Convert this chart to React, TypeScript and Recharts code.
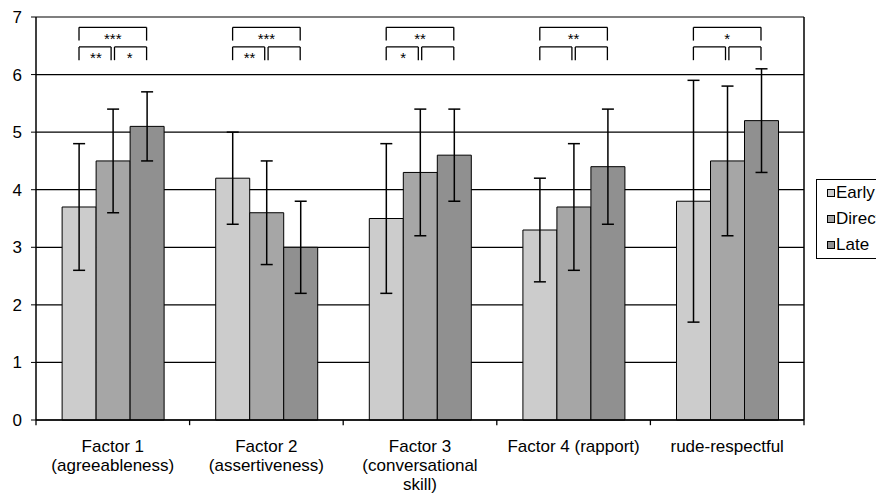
import React from 'react'
import {
  BarChart,
  Bar,
  XAxis,
  YAxis,
  CartesianGrid,
  ErrorBar,
  ReferenceLine,
  ReferenceDot,
  Legend,
} from 'recharts'

const categories = [
  'Factor 1\n(agreeableness)',
  'Factor 2\n(assertiveness)',
  'Factor 3\n(conversational\nskill)',
  'Factor 4 (rapport)',
  'rude-respectful',
]
const early = [3.7, 4.2, 3.5, 3.3, 3.8]
const earlyErr = [1.1, 0.8, 1.3, 0.9, 2.1]
const direct = [4.5, 3.6, 4.3, 3.7, 4.5]
const directErr = [0.9, 0.9, 1.1, 1.1, 1.3]
const late = [5.1, 3.0, 4.6, 4.4, 5.2]
const lateErr = [0.6, 0.8, 0.8, 1.0, 0.9]

// significance stars: Early vs Late, Early vs Direct, Direct vs Late
const sigEarlyLate = ['***', '***', '**', '**', '*']
const sigEarlyDirect = ['**', '**', '*', '', '']
const sigDirectLate = ['*', '', '', '', '']

const yTicks = [0, 1, 2, 3, 4, 5, 6, 7]

const series = [
  { key: 'early', err: 'earlyErr', name: 'Early', color: '#cccccc' },
  { key: 'direct', err: 'directErr', name: 'Direct', color: '#a6a6a6' },
  { key: 'late', err: 'lateErr', name: 'Late', color: '#909090' },
]

const data = categories.map((name, i) => ({
  name,
  pos: i + 0.5,
  early: early[i],
  earlyErr: earlyErr[i],
  direct: direct[i],
  directErr: directErr[i],
  late: late[i],
  lateErr: lateErr[i],
}))

// bar centres inside a category, in category units (numeric helper axis)
const EARLY_C = 0.28
const DIRECT_C = 0.5
const LATE_C = 0.72
const GAP = 0.011

const FONT = 'Liberation Sans, Arial, sans-serif'
const FS = 17

function bracket(id: string, x1: number, x2: number, top: number, bottom: number) {
  const seg = (k: string, a: { x: number; y: number }, b: { x: number; y: number }) => (
    <ReferenceLine
      key={id + k}
      xAxisId="num"
      segment={[a, b]}
      stroke="#000"
      strokeWidth={1.3}
      ifOverflow="visible"
    />
  )
  return [
    seg('l', { x: x1, y: bottom }, { x: x1, y: top }),
    seg('t', { x: x1, y: top }, { x: x2, y: top }),
    seg('r', { x: x2, y: top }, { x: x2, y: bottom }),
  ]
}

function star(id: string, x: number, y: number, value: string) {
  if (!value) return null
  return (
    <ReferenceDot
      key={id}
      xAxisId="num"
      x={x}
      y={y}
      r={0}
      fill="none"
      stroke="none"
      ifOverflow="visible"
      label={{ value, position: 'center', fontSize: 15, fill: '#000', fontFamily: FONT }}
    />
  )
}

function CategoryTick(props: any) {
  const { x, y, payload } = props
  const lines = String(payload.value).split('\n')
  return (
    <text x={x} y={y} textAnchor="middle" fontSize={FS} fill="#000" fontFamily={FONT}>
      {lines.map((l, i) => (
        <tspan key={i} x={x} dy={i === 0 ? 24 : 19}>
          {l}
        </tspan>
      ))}
    </text>
  )
}

function LegendBox() {
  return (
    <div
      style={{
        border: '1px solid #000',
        background: '#fff',
        width: 100,
        padding: '0 0 0 10px',
        fontFamily: FONT,
        fontSize: FS,
        lineHeight: '26px',
        color: '#000',
        whiteSpace: 'nowrap',
      }}
    >
      {series.map((s) => (
        <div key={s.key} style={{ display: 'flex', alignItems: 'center' }}>
          <span
            style={{
              display: 'inline-block',
              width: 6,
              height: 6,
              background: s.color,
              border: '1px solid #000',
              marginRight: 1,
            }}
          />
          {s.name}
        </div>
      ))}
    </div>
  )
}

export default function App() {
  return (
    <div
      style={{
        position: 'absolute',
        left: 0,
        top: 0,
        width: 876,
        height: 495,
        overflow: 'hidden',
        background: '#fff',
      }}
    >
      <BarChart
        width={876}
        height={495}
        data={data}
        margin={{ top: 17, right: 72, left: 0, bottom: 5 }}
        barCategoryGap="17%"
        barGap={0}
      >
        <CartesianGrid vertical={false} stroke="#000" strokeWidth={1.2} />
        <XAxis
          xAxisId="cat"
          dataKey="name"
          tickLine={false}
          axisLine={{ stroke: '#000', strokeWidth: 1.5 }}
          tick={<CategoryTick />}
          interval={0}
          height={70}
        />
        <XAxis xAxisId="num" dataKey="pos" type="number" domain={[0, 5]} allowDataOverflow hide />
        <YAxis
          domain={[0, 7]}
          ticks={yTicks}
          tickSize={5}
          tickMargin={9}
          width={36}
          axisLine={{ stroke: '#000', strokeWidth: 1.5 }}
          tickLine={{ stroke: '#000' }}
          tick={{ fontSize: FS, fill: '#000', fontFamily: FONT }}
        />
        <Legend
          layout="vertical"
          align="center"
          verticalAlign="middle"
          wrapperStyle={{ left: 816, top: 179, width: 100 }}
          content={() => <LegendBox />}
        />
        {series.map((s) => (
          <Bar
            key={s.key}
            xAxisId="cat"
            dataKey={s.key}
            name={s.name}
            fill={s.color}
            stroke="#000"
            strokeWidth={1}
            isAnimationActive={false}
          >
            <ErrorBar dataKey={s.err} width={6} stroke="#000" strokeWidth={1.5} direction="y" />
          </Bar>
        ))}
        <ReferenceLine xAxisId="num" x={5} stroke="#000" strokeWidth={1.5} ifOverflow="visible" />
        {[0, 1, 2, 3, 4, 5].map((t) => (
          <ReferenceLine
            key={'tick' + t}
            xAxisId="num"
            segment={[
              { x: t, y: 0 },
              { x: t, y: -0.09 },
            ]}
            stroke="#000"
            strokeWidth={1.3}
            ifOverflow="visible"
          />
        ))}
        {categories.map((_, i) => [
          ...bracket('a' + i, i + EARLY_C, i + LATE_C, 6.82, 6.59),
          ...bracket('b' + i, i + EARLY_C, i + DIRECT_C - GAP, 6.48, 6.25),
          ...bracket('c' + i, i + DIRECT_C + GAP, i + LATE_C, 6.48, 6.25),
          star('sa' + i, i + (EARLY_C + LATE_C) / 2, 6.62, sigEarlyLate[i]),
          star('sb' + i, i + (EARLY_C + DIRECT_C) / 2, 6.29, sigEarlyDirect[i]),
          star('sc' + i, i + (DIRECT_C + LATE_C) / 2, 6.29, sigDirectLate[i]),
        ])}
      </BarChart>
    </div>
  )
}
